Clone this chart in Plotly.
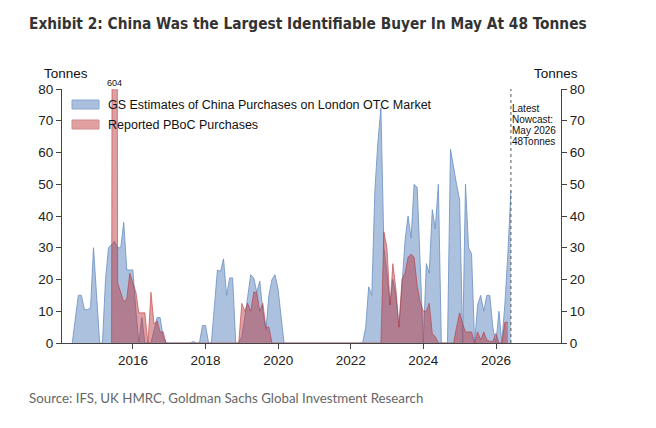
import pandas as pd
import plotly.graph_objects as go

# ---------------- data (monthly, month-end) ----------------
gs_start = "2014-04-30"
gs_values = [
    # 2014 Apr-Dec
    0, 7.5, 15, 15, 10.5, 10.5, 11, 30, 15,
    # 2015
    0, 0, 20, 30, 31, 32, 30, 30, 38, 23, 23, 23,
    # 2016
    10, 0, 8, 0, 0, 0, 4, 8, 8, 2, 0, 0,
    # 2017
    0, 0, 0, 0, 0, 0, 0, 0.5, 0, 0, 5.5, 5.5,
    # 2018
    0, 0, 12, 23, 22.5, 26.5, 15, 20.5, 20.5, 0, 0, 2,
    # 2019
    8, 15, 21.5, 20.5, 16, 19.5, 10, 4, 15, 20, 21.5, 17,
    # 2020
    9, 0, 0, 0, 0, 0, 0, 0, 0, 0, 0, 0,
    # 2021
    0, 0, 0, 0, 0, 0, 0, 0, 0, 0, 0, 0,
    # 2022
    0, 0, 0, 0, 5, 17.7, 15, 48, 63, 74, 30, 22,
    # 2023
    12, 20, 15, 5, 18, 32, 40, 33, 50, 49, 25, 0,
    # 2024
    25, 22, 42, 36, 50, 0, 0, 0, 61, 55, 50, 45,
    # 2025
    0, 50, 30, 28, 0, 12, 15, 10, 15, 15, 5, 0,
    # 2026 Jan-May
    10, 0, 12, 28, 48,
]

pboc_start = "2015-05-31"
pboc_values = [
    # 2015 May-Dec
    0, 604, 19, 16, 13, 14, 22, 19,
    # 2016
    16, 9.5, 9.5, 9.5, 0, 16, 6, 7, 3.5, 3.5, 0, 0,
    # 2017
    0, 0, 0, 0, 0, 0, 0, 0, 0, 0, 0, 0,
    # 2018
    0, 0, 0, 0, 0, 0, 0, 0, 0, 0, 0, 12.5,
    # 2019
    10, 12.5, 10, 16, 16, 10, 12.5, 5, 5, 0, 0, 0,
    # 2020
    0, 0, 0, 0, 0, 0, 0, 0, 0, 0, 0, 0,
    # 2021
    0, 0, 0, 0, 0, 0, 0, 0, 0, 0, 0, 0,
    # 2022
    0, 0, 0, 0, 0, 0, 0, 0, 0, 0, 35, 30,
    # 2023
    12, 25, 17, 5, 20, 22, 27, 28, 27, 18, 13, 10,
    # 2024
    10, 12.5, 3, 2, 0, 0, 0, 0, 0, 0, 5, 9.5,
    # 2025
    6, 3.5, 3.5, 3.5, 0, 3.5, 1, 3.5, 1, 0.5, 0.5, 3,
    # 2026 Jan-Apr
    0, 0, 6.5, 6.5,
]

series_names = ["GS Estimates of China Purchases on London OTC Market",
                "Reported PBoC Purchases"]
nowcast_date = "2026-05-31"
nowcast_lines = ["Latest", "Nowcast:", "May 2026", "48Tonnes"]
spike_label = "604"
title_text = "Exhibit 2: China Was the Largest Identifiable Buyer In May At 48 Tonnes"
source_text = "Source: IFS, UK HMRC, Goldman Sachs Global Investment Research"

gs_dates = pd.date_range(start=gs_start, periods=len(gs_values), freq="ME")
pboc_dates = pd.date_range(start=pboc_start, periods=len(pboc_values), freq="ME")

BLUE_FILL = "rgba(112,148,198,0.58)"
BLUE_LINE = "rgba(112,148,198,0.85)"
RED_FILL = "rgba(185,45,50,0.45)"
RED_LINE = "rgba(185,45,50,0.55)"

fig = go.Figure()
fig.add_trace(go.Scatter(x=gs_dates, y=gs_values, mode="lines", fill="tozeroy",
                         fillcolor=BLUE_FILL, line=dict(color=BLUE_LINE, width=1),
                         name=series_names[0], showlegend=False))
fig.add_trace(go.Scatter(x=pboc_dates, y=pboc_values, mode="lines", fill="tozeroy",
                         fillcolor=RED_FILL, line=dict(color=RED_LINE, width=1),
                         name=series_names[1], showlegend=False))
# invisible trace to activate right axis
fig.add_trace(go.Scatter(x=[gs_dates[0]], y=[0], yaxis="y2", mode="markers",
                         marker=dict(opacity=0), showlegend=False, hoverinfo="skip"))

W, H = 656, 428
L, R, T, B = 62, 95, 89, 85
pw, ph = W - L - R, H - T - B


def px(xpix):
    return (xpix - L) / pw


def py(ypix):
    return (H - B - ypix) / ph


axis_col = "#444444"
tick_font = dict(family="Arial, Liberation Sans", size=13.5, color="#222222")

fig.update_layout(
    width=W, height=H,
    margin=dict(l=L, r=R, t=T, b=B, pad=0),
    plot_bgcolor="white", paper_bgcolor="white",
    showlegend=False,
    xaxis=dict(type="date", range=["2014-01-17", "2027-10-17"],
               tick0="2016-01-01", dtick="M24", tickformat="%Y",
               ticks="outside", ticklen=5, tickcolor=axis_col,
               showline=True, linecolor=axis_col, linewidth=1,
               showgrid=False, zeroline=False, tickfont=tick_font),
    yaxis=dict(range=[0, 80], dtick=10, ticks="outside", ticklen=5,
               tickcolor=axis_col, showline=True, linecolor=axis_col,
               linewidth=1, showgrid=False, zeroline=False, tickfont=tick_font),
    yaxis2=dict(range=[0, 80], dtick=10, ticks="outside", ticklen=5,
                tickcolor=axis_col, showline=True, linecolor=axis_col,
                linewidth=1, showgrid=False, zeroline=False, tickfont=tick_font,
                overlaying="y", side="right"),
)

shapes = []
# dashed nowcast line
shapes.append(dict(type="line", xref="x", yref="paper", x0=nowcast_date, x1=nowcast_date,
                   y0=0, y1=1, line=dict(color="#555555", width=1, dash="dot")))
# legend swatches
shapes.append(dict(type="rect", xref="paper", yref="paper", x0=px(72), x1=px(99),
                   y0=py(109), y1=py(100), fillcolor="rgba(169,191,221,1)",
                   line=dict(color="rgba(140,168,208,1)", width=1)))
shapes.append(dict(type="rect", xref="paper", yref="paper", x0=px(72), x1=px(99),
                   y0=py(129), y1=py(120), fillcolor="rgba(224,160,160,1)",
                   line=dict(color="rgba(210,140,140,1)", width=1)))
fig.update_layout(shapes=shapes)

ann = []
leg_font = dict(family="Arial, Liberation Sans", size=12.5, color="#111111")
ann.append(dict(xref="paper", yref="paper", x=px(106), y=py(104.5), text=series_names[0],
                showarrow=False, xanchor="left", yanchor="middle", font=leg_font))
ann.append(dict(xref="paper", yref="paper", x=px(106), y=py(124.5), text=series_names[1],
                showarrow=False, xanchor="left", yanchor="middle", font=leg_font))
unit_font = dict(family="Arial, Liberation Sans", size=13.5, color="#111111")
ann.append(dict(xref="paper", yref="paper", x=px(66), y=py(73.5), text="Tonnes",
                showarrow=False, xanchor="center", yanchor="middle", font=unit_font))
ann.append(dict(xref="paper", yref="paper", x=px(556), y=py(73.5), text="Tonnes",
                showarrow=False, xanchor="center", yanchor="middle", font=unit_font))
ann.append(dict(xref="x", yref="paper", x="2015-06-30", y=py(83), text=spike_label,
                showarrow=False, xanchor="center", yanchor="middle",
                font=dict(family="Arial, Liberation Sans", size=9, color="#111111")))
for i, line in enumerate(nowcast_lines):
    ann.append(dict(xref="x", yref="paper", x=nowcast_date, xshift=-1, y=py(108.5 + i * 11),
                    text=line, showarrow=False, xanchor="left", yanchor="middle",
                    font=dict(family="Arial, Liberation Sans", size=10, color="#111111")))
ann.append(dict(xref="paper", yref="paper", x=px(27), y=py(24), text="<b>" + title_text + "</b>",
                showarrow=False, xanchor="left", yanchor="middle",
                font=dict(family="DejaVu Sans Condensed, Arial", size=15.3,
                          color="#333333")))
ann.append(dict(xref="paper", yref="paper", x=px(27), y=py(398), text=source_text,
                showarrow=False, xanchor="left", yanchor="middle",
                font=dict(family="Lato, Arial", size=13.3, color="#666666")))
fig.update_layout(annotations=ann)

fig.write_html("out.html")
